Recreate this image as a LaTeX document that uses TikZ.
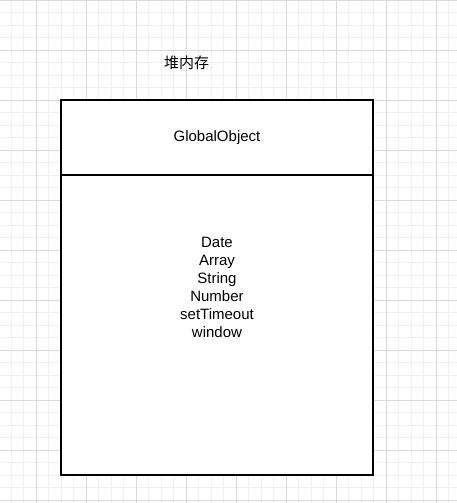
\documentclass[tikz,border=0pt]{standalone}
\usepackage{fontspec}
\setmainfont{Liberation Sans}
\newfontfamily\cjkfont{Noto Sans CJK SC}
\definecolor{gridmajor}{RGB}{218,218,218}
\definecolor{gridminor}{RGB}{240,240,240}
\tikzset{
  boxpart/.style={draw=black, line width=1.3pt, fill=white, minimum width=312pt, inner sep=0pt, outer sep=0pt},
  txt/.style={font=\fontsize{15pt}{18pt}\selectfont, inner sep=0pt, align=center},
}
\begin{document}
\begin{tikzpicture}[x=1pt,y=-1pt]
\useasboundingbox (0,0) rectangle (457,503);
\fill[white] (0,0) rectangle (457,503);
% minor grid
\foreach \i in {0,...,36} {
  \draw[gridminor, line width=0.8pt] ({11+12.5*\i},0) -- ({11+12.5*\i},503);
}
\foreach \j in {0,...,40} {
  \draw[gridminor, line width=0.8pt] (0,{12.5*\j}) -- (457,{12.5*\j});
}
% major grid
\foreach \i in {0,...,8} {
  \draw[gridmajor, line width=0.9pt] ({36+50*\i},0) -- ({36+50*\i},503);
}
\foreach \j in {0,...,10} {
  \draw[gridmajor, line width=0.9pt] (0,{50*\j}) -- (457,{50*\j});
}
\node[txt, font=\cjkfont\fontsize{15pt}{18pt}\selectfont] (title) at (186.5,62.5) {堆内存};
\node[boxpart, minimum height=75pt] (head) at (217,137.5) {};
\node[boxpart, minimum height=300pt] (body) at (217,325) {};
\node[txt] (gobj) at (head.center) {GlobalObject};
\node[txt] (list) at (217,287) {Date\\Array\\String\\Number\\setTimeout\\window};
\end{tikzpicture}
\end{document}
